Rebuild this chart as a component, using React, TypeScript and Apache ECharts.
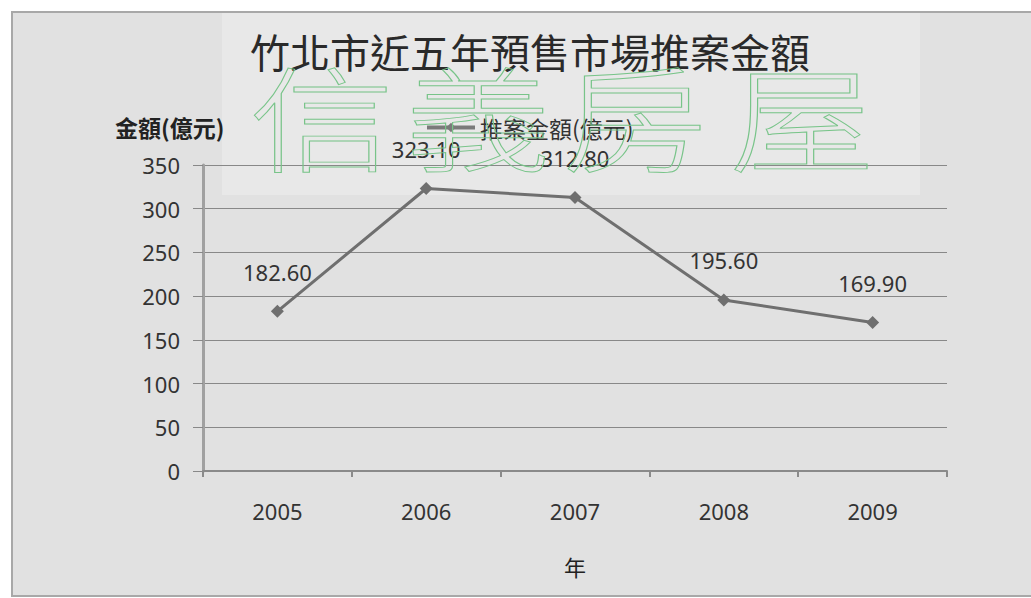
import React, { useEffect, useRef } from "react";
import * as echarts from "echarts";

const titleText = "竹北市近五年預售市場推案金額";
const yAxisName = "金額(億元)";
const xAxisName = "年";
const seriesName = "推案金額(億元)";
const categories = ["2005", "2006", "2007", "2008", "2009"];
const values = [182.6, 323.1, 312.8, 195.6, 169.9];
const watermarkChars = ["信", "義", "房", "屋"];

const NUM_FONT = "'Noto Sans', 'Open Sans', sans-serif";
const CJK_FONT = "'Noto Sans CJK TC', 'Noto Sans CJK SC', sans-serif";

export default function App() {
  const ref = useRef<HTMLDivElement>(null);
  useEffect(() => {
    if (!ref.current) return;
    const chart = echarts.init(ref.current, null, { renderer: "svg" });
    const wmX = [322, 478, 635, 802];
    chart.setOption({
      animation: false,
      backgroundColor: "#ffffff",
      title: {
        text: titleText,
        left: 245,
        top: 26,
        textStyle: {
          fontFamily: CJK_FONT,
          fontSize: 40,
          fontWeight: "normal",
          color: "#2a2a2a",
        },
      },
      legend: {
        left: 420,
        top: 111,
        itemWidth: 48,
        itemHeight: 12,
        itemGap: 6,
        data: [seriesName],
        lineStyle: { width: 4, color: "#7a7a7a" },
        itemStyle: { color: "#7a7a7a" },
        textStyle: { fontFamily: CJK_FONT, fontSize: 23, color: "#333" },
      },
      grid: { left: 203, right: 84, top: 165, bottom: 127 },
      xAxis: {
        type: "category",
        data: categories,
        boundaryGap: true,
        name: xAxisName,
        nameLocation: "middle",
        nameGap: 84,
        nameTextStyle: { fontFamily: CJK_FONT, fontSize: 22, color: "#222" },
        axisLine: { lineStyle: { color: "#8a8a8a", width: 2 } },
        axisTick: { show: true, length: 6, lineStyle: { color: "#8a8a8a", width: 2 } },
        axisLabel: { margin: 29, fontFamily: NUM_FONT, fontSize: 22, color: "#333" },
      },
      yAxis: {
        type: "value",
        min: 0,
        max: 350,
        interval: 50,
        axisLine: { show: true, lineStyle: { color: "#a0a0a0", width: 3 } },
        axisTick: { show: true, length: 10, lineStyle: { color: "#888" } },
        splitLine: { lineStyle: { color: "#888", width: 1 } },
        axisLabel: { margin: 23, fontFamily: NUM_FONT, fontSize: 22, color: "#333" },
      },
      graphic: [
        {
          type: "rect",
          z: -10,
          silent: true,
          shape: { x: 12, y: 12, width: 1030, height: 584 },
          style: { fill: "#e1e1e1", stroke: "#a8a8a8", lineWidth: 2 },
        },
        {
          type: "rect",
          z: -9,
          silent: true,
          shape: { x: 222, y: 13, width: 698, height: 182 },
          style: { fill: "#e8e8e8" },
        },
        {
          type: "text",
          left: 115,
          top: 115,
          style: {
            text: yAxisName,
            fontFamily: CJK_FONT,
            fontSize: 23,
            fontWeight: "bold",
            fill: "#222",
          },
        },
        ...watermarkChars.map((c, i) => ({
          type: "text",
          z: 100,
          silent: true,
          x: wmX[i],
          y: 113,
          scaleY: 0.78,
          style: {
            text: c,
            fontFamily: CJK_FONT,
            fontSize: 146,
            fontWeight: 300,
            fill: "rgba(0,0,0,0)",
            stroke: "#78c489",
            lineWidth: 1.2,
            align: "center",
            verticalAlign: "middle",
          },
        })),
      ],
      series: [
        {
          name: seriesName,
          type: "line",
          data: values,
          symbol: "diamond",
          symbolSize: 13,
          itemStyle: { color: "#6f6f6f" },
          lineStyle: { color: "#6f6f6f", width: 3 },
          label: {
            show: true,
            position: "top",
            distance: 22,
            formatter: (p: any) => Number(p.value).toFixed(2),
            fontFamily: NUM_FONT,
            fontSize: 22,
            color: "#333",
          },
        },
      ],
    });
    return () => chart.dispose();
  }, []);
  return (
    <div
      ref={ref}
      style={{ position: "fixed", left: 0, top: 0, width: 1031, height: 598 }}
    />
  );
}
